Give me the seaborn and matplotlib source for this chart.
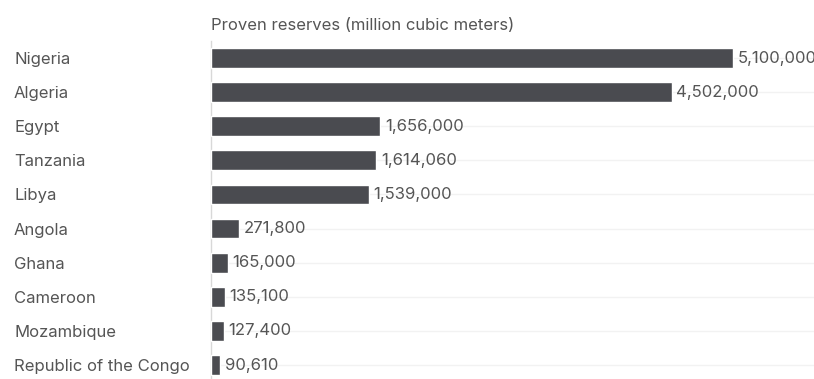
import matplotlib
matplotlib.use("Agg")
import matplotlib.pyplot as plt
import seaborn as sns
import pandas as pd

countries = ["Nigeria", "Algeria", "Egypt", "Tanzania", "Libya", "Angola", "Ghana",
             "Cameroon", "Mozambique", "Republic of the Congo"]
reserves = [5100000, 4502000, 1656000, 1614060, 1539000, 271800, 165000, 135100, 127400, 90610]
title = "Proven reserves (million cubic meters)"

df = pd.DataFrame({"country": countries, "reserves": reserves})

sns.set_theme(style="white")
plt.rcParams['font.family'] = ['Inter', 'DejaVu Sans']

fig = plt.figure(figsize=(8.14, 3.79), dpi=100)
ax = fig.add_axes([211/814, 0.0, 1 - 211/814, 338/379])
ax.set_xlim(0, (814 - 211) / 102.35 * 1e6)
sns.barplot(data=df, x="reserves", y="country", color="#4a4b50", width=0.58,
            saturation=1, ax=ax, zorder=3)
ax.set_ylim(9.41, -0.5)
ax.set_xlabel("")
ax.set_ylabel("")
ax.set_xticks([])
for s in ["top", "right", "bottom"]:
    ax.spines[s].set_visible(False)
ax.spines["left"].set_color("#d8d8d8")
ax.spines["left"].set_linewidth(1)
ax.tick_params(axis="y", length=0, pad=197 * 0.72, labelsize=12, labelcolor="#555555")
for lab in ax.get_yticklabels():
    lab.set_ha("left")
ax.yaxis.grid(True, color="#f2f2f2", linewidth=1, zorder=0)
ax.set_axisbelow(True)

for i, v in enumerate(reserves):
    ax.text(v + 45000, i, f"{v:,}", va="center", ha="left", fontsize=12,
            color="#555555", clip_on=False)

fig.text(211/814, 1 - 26/379, title, ha="left", va="center", fontsize=12, color="#555555")

fig.savefig("out.png", dpi=100)
